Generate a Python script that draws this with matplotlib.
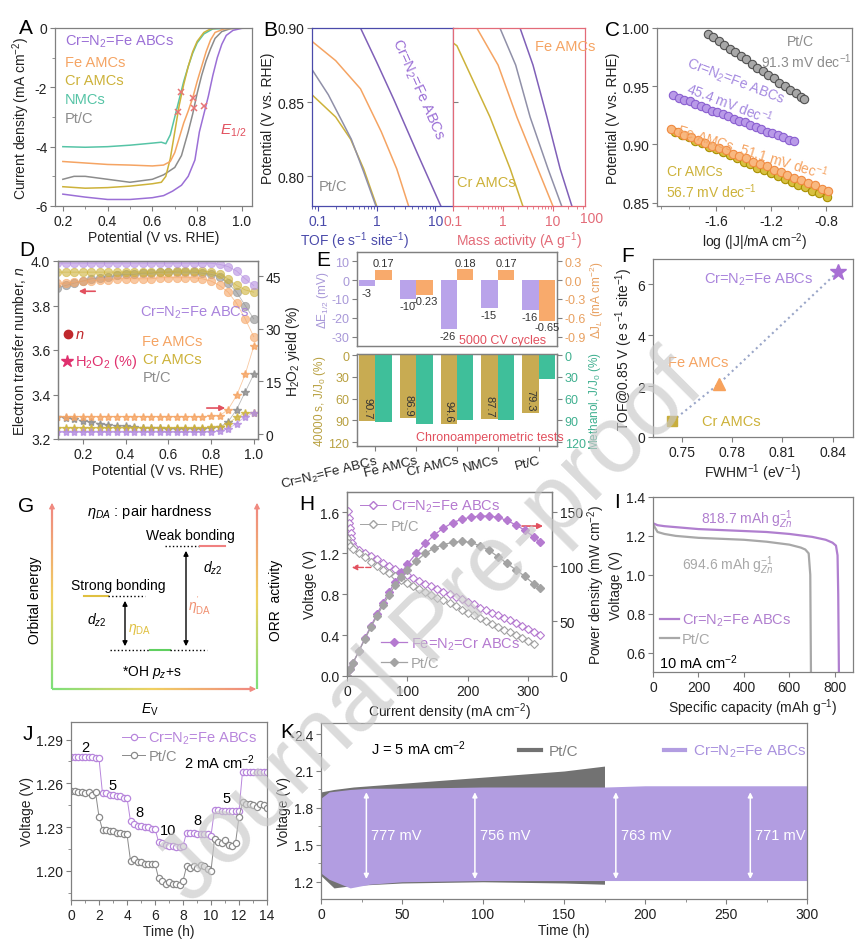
import numpy as np
import matplotlib
matplotlib.use("Agg")
import matplotlib.pyplot as plt
from matplotlib.lines import Line2D
from matplotlib.collections import LineCollection
from matplotlib.colors import LinearSegmentedColormap
from matplotlib.ticker import MultipleLocator, LogLocator, NullFormatter

plt.rcParams['font.family'] = ['Liberation Sans', 'DejaVu Sans']
plt.rcParams['mathtext.fontset'] = 'custom'
plt.rcParams['mathtext.rm'] = 'Liberation Sans'
plt.rcParams['mathtext.it'] = 'Liberation Sans:italic'
plt.rcParams['mathtext.bf'] = 'Liberation Sans:bold'
plt.rcParams['axes.unicode_minus'] = False
plt.rcParams['font.size'] = 10
plt.rcParams['axes.linewidth'] = 0.9
plt.rcParams['axes.edgecolor'] = '#808080'
plt.rcParams['axes.labelcolor'] = '#222222'
plt.rcParams['axes.labelsize'] = 10
plt.rcParams['axes.labelpad'] = 2
for a in ('xtick', 'ytick'):
    plt.rcParams[a + '.color'] = '#808080'
    plt.rcParams[a + '.labelcolor'] = '#222222'
    plt.rcParams[a + '.labelsize'] = 10
    plt.rcParams[a + '.major.size'] = 3.5
    plt.rcParams[a + '.minor.size'] = 2
    plt.rcParams[a + '.major.pad'] = 2
    plt.rcParams[a + '.direction'] = 'out'

PUR = '#9b6fd6'
ORA = '#f5a463'
OLI = '#cdb23a'
TEA = '#56c4a6'
GRY = '#8c8c8c'
RED = '#e2505e'

# ---------------- A: LSV curves ----------------
A_pur_v = [0.2, 0.3, 0.4, 0.5, 0.6, 0.65, 0.69, 0.73, 0.76, 0.79, 0.81, 0.83, 0.85, 0.87, 0.89, 0.91, 0.93, 0.96, 1.0, 1.045]
A_pur_j = [-5.6, -5.7, -5.78, -5.78, -5.72, -5.65, -5.5, -5.3, -5.0, -4.45, -3.5, -2.9, -2.3, -1.6, -1.0, -0.55, -0.25, -0.08, -0.01, 0]
A_ora_v = [0.2, 0.3, 0.4, 0.5, 0.6, 0.65, 0.68, 0.70, 0.72, 0.74, 0.76, 0.78, 0.80, 0.82, 0.84, 0.86, 0.88, 0.92, 1.0, 1.045]
A_ora_j = [-4.5, -4.55, -4.6, -4.62, -4.65, -4.62, -4.5, -4.2, -3.7, -3.2, -2.8, -2.36, -1.8, -1.3, -0.8, -0.4, -0.15, -0.03, 0, 0]
A_oli_v = [0.2, 0.3, 0.4, 0.5, 0.6, 0.64, 0.66, 0.68, 0.70, 0.72, 0.74, 0.76, 0.78, 0.80, 0.83, 0.86, 0.9, 1.0, 1.045]
A_oli_j = [-5.35, -5.4, -5.38, -5.33, -5.25, -5.2, -5.0, -4.4, -3.5, -2.6, -1.9, -1.3, -0.8, -0.45, -0.15, -0.03, 0, 0, 0]
A_tea_v = [0.2, 0.3, 0.4, 0.5, 0.6, 0.64, 0.66, 0.68, 0.70, 0.72, 0.74, 0.76, 0.78, 0.80, 0.83, 0.87, 1.0, 1.045]
A_tea_j = [-4.0, -4.02, -4.0, -3.95, -3.88, -3.85, -3.9, -3.6, -3.0, -2.4, -1.8, -1.3, -0.85, -0.5, -0.2, -0.03, 0, 0]
A_gry_v = [0.2, 0.25, 0.3, 0.4, 0.5, 0.6, 0.65, 0.7, 0.73, 0.76, 0.78, 0.80, 0.82, 0.84, 0.86, 0.88, 0.91, 0.95, 1.0, 1.045]
A_gry_j = [-5.1, -5.0, -5.0, -5.1, -5.2, -5.1, -4.95, -4.7, -4.3, -3.5, -2.9, -2.2, -1.6, -1.1, -0.7, -0.35, -0.12, -0.02, 0, 0]
A_e12_v = [0.727, 0.714, 0.78, 0.787, 0.83]
A_e12_j = [-2.15, -2.83, -2.36, -2.7, -2.63]

# ---------------- B: TOF / mass activity ----------------
B1_oli = ([0.079, 0.2, 0.36, 0.6, 1.0], [0.855, 0.84, 0.825, 0.805, 0.78])
B1_gry = ([0.079, 0.15, 0.37, 0.6, 0.97], [0.872, 0.855, 0.825, 0.803, 0.78])
B1_ora = ([0.079, 0.2, 0.53, 1.2, 2.2, 3.5], [0.891, 0.878, 0.859, 0.83, 0.805, 0.78])
B1_pur = ([0.53, 1.0, 1.95, 5.0, 12.4], [0.90, 0.877, 0.852, 0.815, 0.78])
B2_oli = ([0.1, 0.12, 0.55, 1.4, 2.5], [0.89, 0.888, 0.84, 0.805, 0.78])
B2_ora = ([0.30, 0.8, 1.9, 5.0, 10], [0.90, 0.875, 0.84, 0.805, 0.78])
B2_gry = ([0.87, 1.8, 3.5, 8.0, 15], [0.90, 0.875, 0.84, 0.805, 0.78])
B2_pur = ([2.2, 4.0, 7.6, 14, 24], [0.90, 0.875, 0.84, 0.805, 0.78])

# ---------------- C: Tafel ----------------
C_pt_x = [-1.66, -1.62, -1.58, -1.54, -1.50, -1.46, -1.42, -1.38, -1.34, -1.30, -1.26, -1.22, -1.18, -1.14, -1.10, -1.06, -1.02, -0.98, -0.96]
C_pt_y = [0.995, 0.992, 0.989, 0.985, 0.982, 0.979, 0.976, 0.973, 0.969, 0.966, 0.963, 0.960, 0.957, 0.953, 0.950, 0.947, 0.944, 0.941, 0.939]
C_pu_x = [-1.91, -1.87, -1.83, -1.79, -1.75, -1.71, -1.67, -1.63, -1.59, -1.55, -1.51, -1.47, -1.43, -1.39, -1.35, -1.31, -1.27, -1.23, -1.19, -1.15, -1.11, -1.07, -1.03]
C_pu_y = [0.942, 0.940, 0.938, 0.937, 0.935, 0.933, 0.931, 0.929, 0.928, 0.926, 0.924, 0.922, 0.920, 0.919, 0.917, 0.915, 0.913, 0.911, 0.910, 0.908, 0.906, 0.904, 0.903]
C_fe_x = [-1.93, -1.88, -1.83, -1.78, -1.73, -1.68, -1.63, -1.58, -1.53, -1.48, -1.43, -1.38, -1.33, -1.28, -1.23, -1.18, -1.13, -1.08, -1.03, -0.98, -0.93, -0.88, -0.83, -0.785]
C_fe_y = [0.913, 0.911, 0.908, 0.906, 0.904, 0.901, 0.899, 0.897, 0.895, 0.892, 0.890, 0.888, 0.885, 0.883, 0.881, 0.878, 0.876, 0.874, 0.871, 0.869, 0.867, 0.865, 0.862, 0.860]
C_cr_x = [-1.90, -1.85, -1.80, -1.75, -1.70, -1.65, -1.60, -1.55, -1.50, -1.45, -1.40, -1.35, -1.30, -1.25, -1.20, -1.15, -1.10, -1.05, -1.00, -0.95, -0.90, -0.85, -0.79]
C_cr_y = [0.911, 0.908, 0.906, 0.903, 0.901, 0.898, 0.896, 0.893, 0.891, 0.888, 0.885, 0.883, 0.880, 0.878, 0.875, 0.873, 0.870, 0.868, 0.865, 0.863, 0.860, 0.858, 0.855]

# ---------------- D: n and H2O2 ----------------
D_v = [0.08, 0.12, 0.16, 0.20, 0.24, 0.28, 0.32, 0.36, 0.40, 0.44, 0.48, 0.52, 0.56, 0.60, 0.64, 0.68, 0.72, 0.76, 0.80, 0.84, 0.88, 0.92, 0.96, 1.00]
D_n_pur = [3.99, 3.99, 3.99, 3.99, 3.99, 3.99, 3.99, 3.99, 3.99, 3.99, 3.99, 3.99, 3.99, 3.99, 3.99, 3.99, 3.99, 3.99, 3.99, 3.985, 3.975, 3.955, 3.92, 3.89]
D_n_oli = [3.95, 3.95, 3.95, 3.95, 3.95, 3.95, 3.95, 3.95, 3.95, 3.95, 3.95, 3.95, 3.95, 3.95, 3.955, 3.955, 3.955, 3.955, 3.95, 3.94, 3.92, 3.89, 3.87, 3.86]
D_n_ora = [3.90, 3.90, 3.905, 3.91, 3.91, 3.915, 3.915, 3.92, 3.92, 3.92, 3.92, 3.92, 3.925, 3.925, 3.925, 3.925, 3.925, 3.92, 3.91, 3.89, 3.86, 3.81, 3.74, 3.66]
D_n_gry = [3.88, 3.89, 3.90, 3.91, 3.92, 3.925, 3.93, 3.935, 3.94, 3.94, 3.945, 3.945, 3.95, 3.95, 3.95, 3.95, 3.95, 3.945, 3.94, 3.93, 3.90, 3.86, 3.80, 3.74]
D_h_pur = [0.5, 0.5, 0.5, 0.5, 0.5, 0.5, 0.5, 0.5, 0.5, 0.5, 0.5, 0.5, 0.5, 0.5, 0.5, 0.5, 0.5, 0.5, 0.6, 0.8, 1.5, 3.0, 5.0, 6.0]
D_h_oli = [1.8, 1.8, 1.8, 1.8, 1.8, 1.8, 1.8, 1.8, 1.8, 1.8, 1.8, 1.8, 1.8, 1.8, 1.8, 1.8, 1.8, 1.8, 1.9, 2.0, 3.0, 4.8, 6.0, 6.0]
D_h_ora = [5.0, 5.0, 5.0, 5.0, 5.0, 5.0, 5.0, 5.0, 5.0, 5.0, 5.0, 5.0, 5.0, 5.0, 5.0, 5.0, 5.0, 5.0, 5.1, 5.2, 7.0, 11.0, 17.0, 25.0]
D_h_gry = [5.0, 4.6, 4.2, 3.8, 3.4, 3.0, 2.7, 2.4, 2.2, 2.0, 1.8, 1.7, 1.6, 1.5, 1.5, 1.5, 1.5, 1.5, 1.6, 2.0, 3.5, 7.0, 12.0, 17.0]

# ---------------- E: stability bars ----------------
E_cats = ['Cr=N$_2$=Fe ABCs', 'Fe AMCs', 'Cr AMCs', 'NMCs', 'Pt/C']
E_dE = [-3, -10, -26, -15, -16]
E_dJ = [0.17, -0.23, 0.18, 0.17, -0.65]
E_ca = [90.7, 86.9, 94.6, 87.7, 79.3]
E_me = [92.8, 94.5, 90.1, 90.2, 33.6]

# ---------------- F: TOF vs FWHM-1 ----------------
F_x = [0.7446, 0.772, 0.843]
F_y = [0.63, 2.08, 6.5]

# ---------------- H: polarization / power ----------------
H_pu_i = [2, 3, 4, 5, 6, 7, 8, 12, 20, 30, 40, 50, 60, 70, 80, 90, 100, 110, 120, 130, 140, 150, 160, 170, 180, 190, 200, 210, 220, 230, 240, 250, 260, 270, 280, 290, 300, 310, 320]
H_pu_v = [1.61, 1.55, 1.50, 1.45, 1.40, 1.35, 1.30, 1.26, 1.23, 1.20, 1.17, 1.14, 1.11, 1.08, 1.05, 1.02, 0.99, 0.96, 0.93, 0.90, 0.88, 0.85, 0.82, 0.80, 0.77, 0.75, 0.72, 0.70, 0.67, 0.65, 0.62, 0.60, 0.57, 0.55, 0.52, 0.49, 0.46, 0.43, 0.40]
H_pt_i = [0, 2, 5, 10, 20, 30, 40, 50, 60, 70, 80, 90, 100, 110, 120, 130, 140, 150, 160, 170, 180, 190, 200, 210, 220, 230, 240, 250, 260, 270, 280, 290, 300, 310]
H_pt_v = [1.35, 1.30, 1.27, 1.24, 1.20, 1.16, 1.12, 1.08, 1.04, 1.01, 0.98, 0.94, 0.91, 0.88, 0.85, 0.82, 0.79, 0.76, 0.74, 0.71, 0.68, 0.65, 0.62, 0.60, 0.57, 0.54, 0.51, 0.48, 0.45, 0.43, 0.40, 0.37, 0.34, 0.31]
H_pp_i = [0, 5, 10, 20, 30, 40, 50, 60, 70, 80, 90, 100, 115, 130, 145, 160, 175, 190, 205, 220, 235, 250, 265, 280, 295, 310, 320]
H_pu_p = [0, 6, 12, 23, 35, 46, 57, 67, 77, 86, 94, 102, 112, 121, 129, 135, 140, 143, 145, 146, 146, 145, 142, 138, 133, 127, 122]
H_pt_p = [0, 6, 12, 23, 34, 45, 55, 65, 74, 83, 90, 97, 105, 112, 117, 120, 122, 123, 122, 119, 115, 109, 103, 97, 91, 84, 80]

# ---------------- I: discharge ----------------
I_pu_c = [0, 20, 50, 100, 200, 300, 400, 500, 600, 700, 760, 790, 805, 812, 815, 818]
I_pu_v = [1.265, 1.255, 1.25, 1.245, 1.235, 1.23, 1.225, 1.22, 1.21, 1.195, 1.18, 1.165, 1.15, 1.10, 0.9, 0.5]
I_pt_c = [0, 20, 50, 100, 200, 300, 400, 500, 600, 650, 670, 685, 692, 695]
I_pt_v = [1.26, 1.22, 1.21, 1.20, 1.19, 1.185, 1.18, 1.17, 1.155, 1.14, 1.13, 1.11, 1.0, 0.5]

# ---------------- J: rate steps ----------------
J_t = [0.0, 0.25, 0.5, 0.75, 1.0, 1.25, 1.5, 1.75, 2.0, 2.25, 2.5, 2.75, 3.0, 3.25, 3.5, 3.75, 4.0,
       4.25, 4.5, 4.75, 5.0, 5.25, 5.5, 5.75, 6.0, 6.25, 6.5, 6.75, 7.0, 7.25, 7.5, 7.75, 8.0,
       8.25, 8.5, 8.75, 9.0, 9.25, 9.5, 9.75, 10.0, 10.25, 10.5, 10.75, 11.0, 11.25, 11.5, 11.75, 12.0,
       12.25, 12.5, 12.75, 13.0, 13.25, 13.5, 13.75, 14.0]
J_pur = [1.278, 1.278, 1.278, 1.278, 1.278, 1.278, 1.278, 1.277, 1.277,
         1.253, 1.253, 1.252, 1.252, 1.251, 1.251, 1.250, 1.250,
         1.234, 1.232, 1.231, 1.231, 1.230, 1.230, 1.229, 1.229,
         1.220, 1.219, 1.218, 1.217, 1.217, 1.216, 1.216, 1.217,
         1.226, 1.226, 1.226, 1.225, 1.225, 1.225, 1.225, 1.224,
         1.242, 1.242, 1.241, 1.241, 1.241, 1.241, 1.241, 1.241,
         1.268, 1.268, 1.268, 1.268, 1.268, 1.268, 1.268, 1.268]
J_pt = [1.255, 1.255, 1.254, 1.254, 1.253, 1.254, 1.252, 1.254, 1.237,
        1.228, 1.228, 1.227, 1.227, 1.226, 1.226, 1.225, 1.225,
        1.207, 1.208, 1.206, 1.206, 1.205, 1.205, 1.205, 1.205,
        1.195, 1.193, 1.191, 1.192, 1.191, 1.191, 1.190, 1.193,
        1.203, 1.202, 1.203, 1.202, 1.204, 1.203, 1.201, 1.200,
        1.222, 1.220, 1.219, 1.221, 1.218, 1.217, 1.219, 1.237,
        1.247, 1.246, 1.246, 1.245, 1.244, 1.246, 1.245, 1.243]
J_steps = ['2', '5', '8', '10', '8', '5']
J_step_t = [1.0, 3.0, 4.9, 6.9, 9.0, 11.1]
J_step_v = [1.285, 1.259, 1.24, 1.228, 1.235, 1.25]

# ---------------- K: cycling envelopes ----------------
K_pt_t = [0, 8, 20, 50, 100, 150, 175]
K_pt_hi = [1.93, 1.95, 1.97, 2.00, 2.05, 2.10, 2.14]
K_pt_lo = [1.25, 1.15, 1.17, 1.19, 1.20, 1.19, 1.18]
K_pu_t = [0, 5, 18, 30, 50, 100, 176, 200, 300]
K_pu_hi = [1.88, 1.93, 1.95, 1.96, 1.96, 1.97, 1.97, 1.98, 1.98]
K_pu_lo = [1.27, 1.22, 1.15, 1.18, 1.20, 1.21, 1.21, 1.21, 1.21]
K_gap_t = [28, 95, 182, 265]
K_gap_lbl = ['777 mV', '756 mV', '763 mV', '771 mV']

W, H = 868, 945
fig = plt.figure(figsize=(W / 100, H / 100), dpi=100)


def box(l, t, r, b):
    return fig.add_axes([l / W, 1 - b / H, (r - l) / W, (b - t) / H])


def letter(x, y, s):
    fig.text(x / W, 1 - y / H, s, fontsize=15, ha='center', va='center')


# ===== A =====
ax = box(55, 29, 252, 207)
for v, j, c in [(A_gry_v, A_gry_j, GRY), (A_tea_v, A_tea_j, TEA), (A_oli_v, A_oli_j, OLI),
                (A_ora_v, A_ora_j, ORA), (A_pur_v, A_pur_j, PUR)]:
    ax.plot(v, j, color=c, lw=1.1)
ax.plot(A_e12_v, A_e12_j, 'x', color='#e87575', ms=5, mew=1.1)
ax.set_xlim(0.165, 1.045)
ax.set_ylim(-6, 0)
ax.set_xticks([0.2, 0.4, 0.6, 0.8, 1.0])
ax.set_yticks([-6, -4, -2, 0])
ax.xaxis.set_minor_locator(MultipleLocator(0.1))
ax.yaxis.set_minor_locator(MultipleLocator(1))
ax.set_xlabel('Potential (V vs. RHE)')
ax.set_ylabel('Current density (mA cm$^{-2}$)')
for y, s, c in [(0.927, 'Cr=N$_2$=Fe ABCs', PUR), (0.809, 'Fe AMCs', ORA), (0.708, 'Cr AMCs', OLI),
                (0.601, 'NMCs', TEA), (0.494, 'Pt/C', GRY)]:
    ax.text(0.05, y, s, color=c, transform=ax.transAxes, va='center', fontsize=10.5)
ax.text(0.84, 0.43, '$E_{1/2}$', color=RED, transform=ax.transAxes, va='center', fontsize=11)
letter(26, 28, 'A')

# ===== B =====
BLU = '#4a4aaa'
PNK = '#e36b78'
b1 = box(312, 29, 453, 207)
b2 = box(453, 29, 585, 207)
for axb, lines, col in [(b1, [(B1_oli, OLI), (B1_gry, '#9090a8'), (B1_ora, ORA), (B1_pur, '#8060b8')], BLU),
                        (b2, [(B2_oli, OLI), (B2_ora, ORA), (B2_gry, '#9090a8'), (B2_pur, '#8060b8')], PNK)]:
    for (xx, yy), c in lines:
        axb.plot(xx, yy, color=c, lw=1.1)
    axb.set_xscale('log')
    axb.set_ylim(0.78, 0.90)
    for s in axb.spines.values():
        s.set_color(col)
    axb.tick_params(axis='x', colors=col, labelcolor=col, which='both')
    axb.xaxis.set_minor_locator(LogLocator(subs=range(2, 10)))
    axb.xaxis.set_minor_formatter(NullFormatter())
b1.set_xlim(0.079, 20)
b2.set_xlim(0.1, 44)
b1.set_xticks([0.1, 1, 10])
b1.set_xticklabels(['0.1', '1', '10'])
b2.set_xticks([0.1, 1, 10])
b2.set_xticklabels(['0.1', '1', '10'])
b2.text(1.053, -0.028, '100', color=PNK, transform=b2.transAxes, ha='center', va='top', fontsize=10)
b1.set_yticks([0.80, 0.85, 0.90])
b1.set_yticklabels(['0.80', '0.85', '0.90'])
b1.tick_params(axis='y', colors='#808080', labelcolor='#222222')
b2.set_yticks([0.80, 0.85, 0.90])
b2.tick_params(axis='y', direction='in', labelleft=False, colors='#808080')
b1.set_ylabel('Potential (V vs. RHE)')
b1.set_xlabel('TOF (e s$^{-1}$ site$^{-1}$)', color=BLU)
b1.xaxis.set_label_coords(0.3, -0.13)
b2.set_xlabel('Mass activity (A g$^{-1}$)', color=PNK)
b2.xaxis.set_label_coords(0.5, -0.13)
b1.text(0.75, 0.66, 'Cr=N$_2$=Fe ABCs', color=PUR, rotation=-66, transform=b1.transAxes,
        ha='center', va='center', fontsize=10.5)
b1.text(0.15, 0.11, 'Pt/C', color=GRY, transform=b1.transAxes, ha='center', va='center', fontsize=10.5)
b2.text(0.03, 0.135, 'Cr AMCs', color=OLI, transform=b2.transAxes, ha='left', va='center', fontsize=10.5)
b2.text(0.62, 0.9, 'Fe AMCs', color=ORA, transform=b2.transAxes, ha='left', va='center', fontsize=10.5)
letter(270, 30, 'B')

# ===== C =====
ax = box(657, 29, 852, 207)
for xx, yy, fc, ec in [(C_pt_x, C_pt_y, '#a8a8a8', '#505050'), (C_pu_x, C_pu_y, '#b99ae8', '#8a5fd0'),
                       (C_cr_x, C_cr_y, '#d8c040', '#a89000'), (C_fe_x, C_fe_y, '#f8b880', '#f08a40')]:
    ax.plot(xx, yy, 'o', ms=6, mfc=fc, mec=ec, mew=0.8)
ax.set_xlim(-2.03, -0.61)
ax.set_ylim(0.847, 1.0)
ax.set_xticks([-1.6, -1.2, -0.8])
ax.set_yticks([0.85, 0.90, 0.95, 1.00])
ax.set_yticklabels(['0.85', '0.90', '0.95', '1.00'])
ax.xaxis.set_minor_locator(MultipleLocator(0.2))
ax.set_xlabel('log (|J|/mA cm$^{-2}$)')
ax.set_ylabel('Potential (V vs. RHE)')
tc = dict(transform=ax.transAxes, ha='center', va='center', fontsize=10)
ax.text(0.733, 0.927, 'Pt/C', color=GRY, **tc)
ax.text(0.765, 0.815, '91.3 mV dec$^{-1}$', color=GRY, **tc)
ax.text(0.40, 0.70, 'Cr=N$_2$=Fe ABCs', color='#a58ae0', rotation=-21, **tc)
ax.text(0.37, 0.58, '45.4 mV dec$^{-1}$', color='#a58ae0', rotation=-21, **tc)
ax.text(0.49, 0.31, 'Fe AMCs  51.1 mV dec$^{-1}$', color=ORA, rotation=-17, **tc)
ax.text(0.195, 0.197, 'Cr AMCs', color=OLI, **tc)
ax.text(0.28, 0.084, '56.7 mV dec$^{-1}$', color=OLI, **tc)
letter(612, 30, 'C')

# ===== D =====
ax = box(58, 262, 258, 440)
ax2 = ax.twinx()
for nn, hh, c in [(D_n_gry, D_h_gry, GRY), (D_n_ora, D_h_ora, ORA), (D_n_oli, D_h_oli, OLI), (D_n_pur, D_h_pur, '#b48de0')]:
    ax.plot(D_v, nn, 'o', ms=6, mfc=c, mec=c, alpha=0.6, mew=0.6)
    ax.plot(D_v, nn, color=c, lw=0.6, alpha=0.6)
    ax2.plot(D_v, hh, '*', ms=6, color=c, alpha=0.8)
    ax2.plot(D_v, hh, color=c, lw=0.6, alpha=0.6)
ax.set_xlim(0.084, 1.02)
ax.set_ylim(3.2, 4.0)
ax.set_xticks([0.2, 0.4, 0.6, 0.8, 1.0])
ax.set_yticks([3.2, 3.4, 3.6, 3.8, 4.0])
ax2.set_ylim(-1.4, 49.3)
ax2.set_yticks([0, 15, 30, 45])
ax.set_xlabel('Potential (V vs. RHE)')
ax.set_ylabel('Electron transfer number, $n$')
ax2.set_ylabel('H$_2$O$_2$ yield (%)')
tl = dict(transform=ax.transAxes, ha='left', va='center', fontsize=10.5)
ax.text(0.41, 0.713, 'Cr=N$_2$=Fe ABCs', color='#a983dc', **tl)
ax.text(0.42, 0.55, 'Fe AMCs', color=ORA, **tl)
ax.text(0.425, 0.45, 'Cr AMCs', color=OLI, **tl)
ax.text(0.425, 0.35, 'Pt/C', color=GRY, **tl)
ax.plot([0.05], [0.59], 'o', color='#c0282c', ms=6, transform=ax.transAxes)
ax.text(0.085, 0.59, '$n$', color='#c0282c', **tl)
ax.plot([0.045], [0.44], '*', color='#e0306e', ms=9, transform=ax.transAxes)
ax.text(0.085, 0.44, 'H$_2$O$_2$ (%)', color='#e0306e', **tl)
ax.annotate('', xy=(0.09, 0.83), xytext=(0.2, 0.83), xycoords='axes fraction',
            arrowprops=dict(arrowstyle='-|>', color=RED, lw=1.2, mutation_scale=8))
ax.annotate('', xy=(0.85, 0.174), xytext=(0.73, 0.174), xycoords='axes fraction',
            arrowprops=dict(arrowstyle='-|>', color=RED, lw=1.2, mutation_scale=8))
letter(27, 251, 'D')

# ===== E =====
E_PUR = '#b9a3ea'
E_ORA = '#f8aa6c'
E_OLI = '#c8ab52'
E_TEA = '#3fbf9a'
x = np.arange(len(E_cats))
e1 = box(357, 253, 557, 347)
e1r = e1.twinx()
e1.bar(x - 0.2, E_dE, width=0.4, color=E_PUR)
e1r.bar(x + 0.2, E_dJ, width=0.4, color=E_ORA)
e1.set_xlim(-0.45, 4.45)
e1.set_ylim(-35, 15)
e1r.set_ylim(-1.05, 0.45)
e1.set_yticks([-30, -20, -10, 0, 10])
e1r.set_yticks([-0.9, -0.6, -0.3, 0.0, 0.3])
e1r.set_yticklabels(['-0.9', '-0.6', '-0.3', '0.0', '0.3'])
e1.set_xticks([])
e1.tick_params(axis='y', labelcolor='#a898d8', labelsize=9)
e1r.tick_params(axis='y', labelcolor='#e8a060', labelsize=9)
e1.set_ylabel('ΔE$_{1/2}$ (mV)', color='#a898d8', fontsize=8.5, labelpad=0)
e1r.set_ylabel('ΔJ$_L$ (mA cm$^{-2}$)', color='#e8a060', fontsize=8.5, labelpad=1)
for i, v in enumerate(E_dE):
    e1.text(i - 0.22, v - 1, str(v), ha='center', va='top', fontsize=8, color='#333333')
for i, v in enumerate(E_dJ):
    lab = '%.2f' % v
    if v > 0:
        e1r.text(i + 0.2, v + 0.02, lab, ha='center', va='bottom', fontsize=8, color='#333333')
    else:
        e1r.text(i + 0.22, v - 0.02, lab, ha='center', va='top', fontsize=8, color='#333333')
e1.text(0.73, 0.06, '5000 CV cycles', color=RED, transform=e1.transAxes, ha='center', va='center', fontsize=9)

e2 = box(357, 355, 557, 447)
e2r = e2.twinx()
e2.bar(x - 0.2, E_ca, width=0.4, color=E_OLI)
e2r.bar(x + 0.2, E_me, width=0.4, color=E_TEA)
for axe in (e2, e2r):
    axe.set_ylim(125.5, -1.4)
    axe.set_yticks([0, 30, 60, 90, 120])
e2.set_xlim(-0.45, 4.45)
e2.tick_params(axis='y', labelcolor='#b8a040', labelsize=9)
e2r.tick_params(axis='y', labelcolor='#40b090', labelsize=9)
e2.set_ylabel('40000 s, J/J$_0$ (%)', color='#b8a040', fontsize=8.5, labelpad=0)
e2r.set_ylabel('Methanol, J/J$_0$ (%)', color='#40b090', fontsize=8.5, labelpad=1)
for i, (a, b) in enumerate(zip(E_ca, E_me)):
    e2.text(i - 0.2, a - 3, '%.1f' % a, rotation=-90, rotation_mode='anchor', ha='right', va='center',
            fontsize=8, color='#333333')
    e2.text(i + 0.2, b - 3, '%.1f' % b, rotation=-90, rotation_mode='anchor', ha='right', va='center',
            fontsize=8, color='#333333')
e2.set_xticks(x)
e2.set_xticklabels(E_cats, rotation=14, ha='right', rotation_mode='anchor', fontsize=9.5)
e2.text(0.665, 0.1, 'Chronoamperometric tests', color=RED, transform=e2.transAxes, ha='center',
        va='center', fontsize=9)
letter(323, 260, 'E')

# ===== F =====
ax = box(653, 260, 853, 438)
ax.plot(F_x, F_y, ':', color='#9aa6c8', lw=1.5)
ax.plot(F_x[0], F_y[0], 's', color='#c8ae3c', ms=7)
ax.plot(F_x[1], F_y[1], '^', color='#f7a25c', ms=8)
ax.plot(F_x[2], F_y[2], '*', color='#a86fd4', ms=12)
ax.set_xlim(0.733, 0.852)
ax.set_ylim(0, 7)
ax.set_xticks([0.75, 0.78, 0.81, 0.84])
ax.set_yticks([0, 2, 4, 6])
ax.set_xlabel('FWHM$^{-1}$ (eV$^{-1}$)')
ax.set_ylabel('TOF@0.85 V (e s$^{-1}$ site$^{-1}$)')
tf = dict(transform=ax.transAxes, ha='center', va='center', fontsize=10.5)
ax.text(0.53, 0.89, 'Cr=N$_2$=Fe ABCs', color='#a983dc', **tf)
ax.text(0.225, 0.42, 'Fe AMCs', color=ORA, **tf)
ax.text(0.39, 0.09, 'Cr AMCs', color=OLI, **tf)
letter(628, 257, 'F')

# ===== G (schematic) =====
g = box(15, 495, 290, 722)
g.set_xlim(15, 290)
g.set_ylim(722, 495)
g.axis('off')
cmap = LinearSegmentedColormap.from_list('gr', ['#7ee07a', '#f0d060', '#f08a80'])


def grad(x0, y0, x1, y1):
    px = np.linspace(x0, x1, 60)
    py = np.linspace(y0, y1, 60)
    seg = np.stack([np.column_stack([px[:-1], py[:-1]]), np.column_stack([px[1:], py[1:]])], axis=1)
    lc = LineCollection(seg, cmap=cmap, linewidths=1.6)
    lc.set_array(np.linspace(0, 1, 59))
    g.add_collection(lc)


grad(52, 690, 52, 508)
grad(52, 690, 252, 690)
grad(257, 690, 257, 508)
for xy, xt in [((52, 501), (52, 510)), ((259, 690), (250, 690)), ((257, 501), (257, 510))]:
    g.annotate('', xy=xy, xytext=xt, arrowprops=dict(arrowstyle='-|>', color='#f08a80', lw=1, mutation_scale=8))
g.text(35, 600, 'Orbital energy', rotation=90, ha='center', va='center', fontsize=10)
g.text(276, 600, 'ORR  activity', rotation=90, ha='center', va='center', fontsize=10)
g.text(150, 710, '$E_\\mathrm{V}$', ha='center', va='center', fontsize=10)
g.text(150, 512, '$\\eta_{DA}$ : pair hardness', ha='center', va='center', fontsize=10.5)
g.text(190, 536, 'Weak bonding', ha='center', va='center', fontsize=10)
g.plot([165, 200], [547, 547], ':', color='k', lw=1)
g.plot([200, 225], [547, 547], '-', color='#f08080', lw=1.5)
g.text(213, 568, '$d_{z2}$', ha='center', va='center', fontsize=10)
g.text(118, 586, 'Strong bonding', ha='center', va='center', fontsize=10)
g.plot([84, 108], [597, 597], '-', color='#e0c040', lw=1.5)
g.plot([108, 145], [597, 597], ':', color='k', lw=1)
g.text(97, 620, '$d_{z2}$', ha='center', va='center', fontsize=10)
g.annotate('', xy=(125, 599), xytext=(125, 650), arrowprops=dict(arrowstyle='<|-|>', color='k', lw=1, mutation_scale=7))
g.annotate('', xy=(186, 549), xytext=(186, 650), arrowprops=dict(arrowstyle='<|-|>', color='k', lw=1, mutation_scale=7))
g.text(140, 630, '$\\eta_\\mathrm{DA}$', color='#e0c040', ha='center', va='center', fontsize=10)
g.text(200, 606, "$\\eta^{'}_\\mathrm{DA}$", color='#f09070', ha='center', va='center', fontsize=10)
g.plot([110, 150], [651, 651], ':', color='k', lw=1)
g.plot([150, 170], [651, 651], '-', color='#60d060', lw=1.5)
g.plot([170, 207], [651, 651], ':', color='k', lw=1)
g.text(152, 673, '*OH $p_z$+s', ha='center', va='center', fontsize=10)
letter(26, 507, 'G')

# ===== H =====
H_PU = '#b57ad0'
H_GR = '#a3a3a3'
ax = box(347, 493, 552, 677)
ax2 = ax.twinx()
ax.plot(H_pu_i, H_pu_v, '-D', color=H_PU, mfc='white', ms=4, mew=0.8, lw=0.7)
ax.plot(H_pt_i, H_pt_v, '-D', color=H_GR, mfc='white', ms=4, mew=0.8, lw=0.7)
ax2.plot(H_pp_i, H_pu_p, '-D', color=H_PU, ms=4, lw=0.9)
ax2.plot(H_pp_i, H_pt_p, '-D', color=H_GR, ms=4, lw=0.9)
ax.set_xlim(0, 340)
ax.set_ylim(0, 1.8)
ax2.set_ylim(0, 168)
ax.set_xticks([0, 100, 200, 300])
ax.set_yticks([0.0, 0.4, 0.8, 1.2, 1.6])
ax2.set_yticks([0, 50, 100, 150])
ax.set_xlabel('Current density (mA cm$^{-2}$)')
ax.set_ylabel('Voltage (V)')
ax2.set_ylabel('Power density (mW cm$^{-2}$)')
h1 = [Line2D([], [], color=H_PU, marker='D', mfc='white', ms=4, lw=0.7),
      Line2D([], [], color=H_GR, marker='D', mfc='white', ms=4, lw=0.7)]
lg = ax.legend(h1, ['Cr=N$_2$=Fe ABCs', 'Pt/C'], loc='upper left', bbox_to_anchor=(0.0, 1.04), frameon=False,
               labelcolor='linecolor', handlelength=1.8, handletextpad=0.3, labelspacing=0.3, fontsize=10.5)
h2 = [Line2D([], [], color=H_PU, marker='D', ms=4, lw=0.9), Line2D([], [], color=H_GR, marker='D', ms=4, lw=0.9)]
ax2.legend(h2, ['Fe=N$_2$=Cr ABCs', 'Pt/C'], loc='lower left', bbox_to_anchor=(0.1, -0.04), frameon=False,
           labelcolor='linecolor', handlelength=1.8, handletextpad=0.3, labelspacing=0.3, fontsize=10.5)
ax.annotate('', xy=(0.01, 0.59), xytext=(0.13, 0.59), xycoords='axes fraction',
            arrowprops=dict(arrowstyle='-|>', color=RED, lw=1, ls='--', mutation_scale=8))
ax.annotate('', xy=(0.97, 0.815), xytext=(0.84, 0.815), xycoords='axes fraction',
            arrowprops=dict(arrowstyle='-|>', color=RED, lw=1.2, mutation_scale=8))
letter(307, 505, 'H')

# ===== I =====
ax = box(653, 498, 853, 673)
ax.plot(I_pu_c, I_pu_v, color='#b07fcf', lw=1.6, label='Cr=N$_2$=Fe ABCs')
ax.plot(I_pt_c, I_pt_v, color='#a8a8a8', lw=1.6, label='Pt/C')
ax.set_xlim(0, 880)
ax.set_ylim(0.5, 1.4)
ax.set_xticks([0, 200, 400, 600, 800])
ax.set_yticks([0.6, 0.8, 1.0, 1.2, 1.4])
ax.set_xlabel('Specific capacity (mAh g$^{-1}$)')
ax.set_ylabel('Voltage (V)')
ax.legend(loc='upper left', bbox_to_anchor=(-0.03, 0.42), frameon=False, labelcolor='linecolor',
          handlelength=1.3, handletextpad=0.2, labelspacing=0.3, fontsize=10.5)
ax.text(413, 1.29, '818.7 mAh g$_{Zn}^{-1}$', color='#b07fcf', ha='center', va='center', fontsize=10)
ax.text(330, 1.05, '694.6 mAh g$_{Zn}^{-1}$', color='#a8a8a8', ha='center', va='center', fontsize=10)
ax.text(0.03, 0.06, '10 mA cm$^{-2}$', transform=ax.transAxes, ha='left', va='center', fontsize=10.5)
letter(617, 503, 'I')

# ===== J =====
ax = box(71, 723, 267, 901)
ax.plot(J_t, J_pur, '-o', color='#b886dc', mfc='white', ms=4.5, mew=0.9, lw=0.7, label='Cr=N$_2$=Fe ABCs')
ax.plot(J_t, J_pt, '-o', color='#8a8a8a', mfc='white', ms=4.5, mew=0.9, lw=0.7, label='Pt/C')
ax.set_xlim(0, 14)
ax.set_ylim(1.18, 1.302)
ax.set_xticks([0, 2, 4, 6, 8, 10, 12, 14])
ax.set_yticks([1.20, 1.23, 1.26, 1.29])
ax.set_yticklabels(['1.20', '1.23', '1.26', '1.29'])
ax.xaxis.set_minor_locator(MultipleLocator(1))
ax.yaxis.set_minor_locator(MultipleLocator(0.015))
ax.set_xlabel('Time (h)')
ax.set_ylabel('Voltage (V)')
ax.legend(loc='upper right', bbox_to_anchor=(1.02, 1.03), frameon=False, labelcolor='linecolor',
          handlelength=1.6, handletextpad=0.2, labelspacing=0.2, fontsize=10.5)
for s, t, v in zip(J_steps, J_step_t, J_step_v):
    ax.text(t, v, s, ha='center', va='center', fontsize=10.5)
ax.text(10.6, 1.275, '2 mA cm$^{-2}$', ha='center', va='center', fontsize=10.5)
letter(28, 735, 'J')

# ===== K =====
ax = box(321, 724, 807, 900)
ax.fill_between(K_pt_t, K_pt_lo, K_pt_hi, color='#727272', lw=0)
ax.fill_between(K_pu_t, K_pu_lo, K_pu_hi, color='#b29de1', lw=0)
ax.set_xlim(0, 300)
ax.set_ylim(1.06, 2.49)
ax.set_xticks([0, 50, 100, 150, 200, 250, 300])
ax.set_yticks([1.2, 1.5, 1.8, 2.1, 2.4])
ax.xaxis.set_minor_locator(MultipleLocator(25))
ax.yaxis.set_minor_locator(MultipleLocator(0.15))
ax.set_xlabel('Time (h)')
ax.set_ylabel('Voltage (V)')
for t, s in zip(K_gap_t, K_gap_lbl):
    ax.annotate('', xy=(t, 1.95), xytext=(t, 1.2),
                arrowprops=dict(arrowstyle='<|-|>', color='white', lw=1.1, mutation_scale=7))
    ax.text(t + 3, 1.58, s, color='white', ha='left', va='center', fontsize=10.5)
ax.text(31, 2.29, 'J = 5 mA cm$^{-2}$', ha='left', va='center', fontsize=10.5)
hk = [Line2D([], [], color='#727272', lw=3), Line2D([], [], color='#b29de1', lw=3)]
ax.legend(hk, ['Pt/C', 'Cr=N$_2$=Fe ABCs'], ncol=2, loc='center left', bbox_to_anchor=(0.38, 0.84),
          frameon=False, labelcolor=['#808080', '#a991de'], handlelength=1.4, handletextpad=0.5,
          columnspacing=5.6, fontsize=11)
letter(287, 733, 'K')

# watermark of the source page
fig.text(432 / W, 1 - 630 / H, 'Journal Pre-proof', rotation=45, fontsize=68, color='#c8c8c8', alpha=0.65,
         ha='center', va='center', zorder=100)

fig.savefig('out.png', dpi=100)
